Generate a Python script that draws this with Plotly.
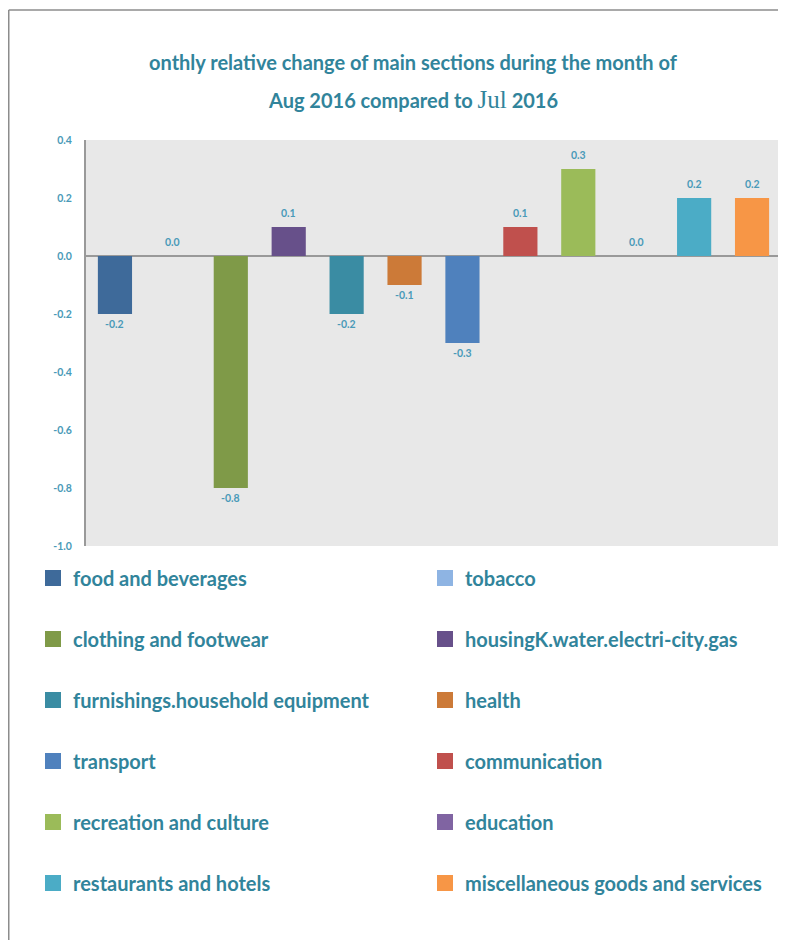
import plotly.graph_objects as go

categories = [
    "food and beverages", "tobacco", "clothing and footwear",
    "housingK.water.electri-city.gas", "furnishings.household equipment", "health",
    "transport", "communication", "recreation and culture", "education",
    "restaurants and hotels", "miscellaneous goods and services",
]
values = [-0.2, 0.0, -0.8, 0.1, -0.2, -0.1, -0.3, 0.1, 0.3, 0.0, 0.2, 0.2]
colors = ["#3E6A9A", "#8EB4E3", "#7F9A48", "#67508A", "#3A8CA3", "#CC7A38",
          "#4F81BD", "#C0504D", "#9BBB59", "#8064A2", "#4BACC6", "#F79646"]
tick_vals = [-1.0, -0.8, -0.6, -0.4, -0.2, 0.0, 0.2, 0.4]
tick_labels = ["-1.0", "-0.8", "-0.6", "-0.4", "-0.2", "0.0", "0.2", "0.4"]

TEAL = "#31849B"
LABEL = "#4A9AB8"

# page has an 8px body margin; work in screen pixels and convert
S = 8
W, H = 786 - S, 940 - S
L, R, T, B = 86 - S, 5, 140 - S, 940 - 546
pw, ph = W - L - R, H - T - B


def px_x(sx):
    return (sx - S - L) / pw


def px_y(sy):
    return (H - B - (sy - S)) / ph


fig = go.Figure()
for i, (c, v, col) in enumerate(zip(categories, values, colors)):
    fig.add_trace(go.Bar(
        x=[c], y=[v], marker=dict(color=col, line=dict(width=0)),
        name=c, legendgroup=c, showlegend=False, hoverinfo="x+y",
    ))
    fig.add_trace(go.Scatter(
        x=[None], y=[None], mode="markers", name=c, legendgroup=c,
        marker=dict(symbol="square", size=16, color=col),
        legend="legend" if i % 2 == 0 else "legend2",
    ))

for c, v in zip(categories, values):
    fig.add_annotation(
        x=c, y=v, text=f"{v:.1f}", showarrow=False,
        yshift=14 if v >= 0 else -10,
        font=dict(family="Lato", size=10.5, color=LABEL, weight="bold"),
    )

title_font = dict(family="Lato", size=20, color=TEAL, weight="bold")
fig.add_annotation(
    xref="paper", yref="paper", x=px_x(413), y=px_y(62),
    xanchor="center", yanchor="middle",
    text="onthly relative change of main sections during the month of",
    showarrow=False, font=title_font,
)
fig.add_annotation(
    xref="paper", yref="paper", x=px_x(413), y=px_y(100),
    xanchor="center", yanchor="middle",
    text='Aug 2016 compared to <span style="font-family:Liberation Serif;font-size:25px;font-weight:normal">Jul</span> 2016',
    showarrow=False, font=title_font,
)

border = dict(color="#8C8C8C", width=1.5)
fig.add_shape(type="line", xref="paper", yref="paper",
              x0=px_x(8.75), x1=px_x(830), y0=px_y(10), y1=px_y(10),
              line=border, layer="above")
fig.add_shape(type="line", xref="paper", yref="paper",
              x0=px_x(8.75), x1=px_x(8.75), y0=px_y(10), y1=px_y(990),
              line=border, layer="above")

legend_font = dict(family="Lato", size=20, color=TEAL, weight="bold")
common_legend = dict(
    xref="container", yref="container", xanchor="left", yanchor="top",
    orientation="v", font=legend_font, tracegroupgap=32,
    bgcolor="rgba(0,0,0,0)",
)

fig.update_layout(
    width=W, height=H,
    margin=dict(l=L, r=R, t=T, b=B, autoexpand=False),
    paper_bgcolor="white", plot_bgcolor="#E8E8E8",
    bargap=0.41,
    legend=dict(x=25 / W, y=1 - 550.5 / H, **common_legend),
    legend2=dict(x=417 / W, y=1 - 550.5 / H, **common_legend),
    xaxis=dict(showticklabels=False, showgrid=False, zeroline=False, showline=False,
               categoryorder="array", categoryarray=categories, fixedrange=True),
    yaxis=dict(range=[-1.0, 0.4], tickvals=tick_vals, ticktext=tick_labels,
               showgrid=False, zeroline=True, zerolinecolor="#999999", zerolinewidth=2,
               showline=True, linecolor="#999999", linewidth=2,
               ticklabelstandoff=10,
               tickfont=dict(family="Lato", size=10.5, color=LABEL, weight="bold")),
    showlegend=True,
)

fig.write_html("out.html")
